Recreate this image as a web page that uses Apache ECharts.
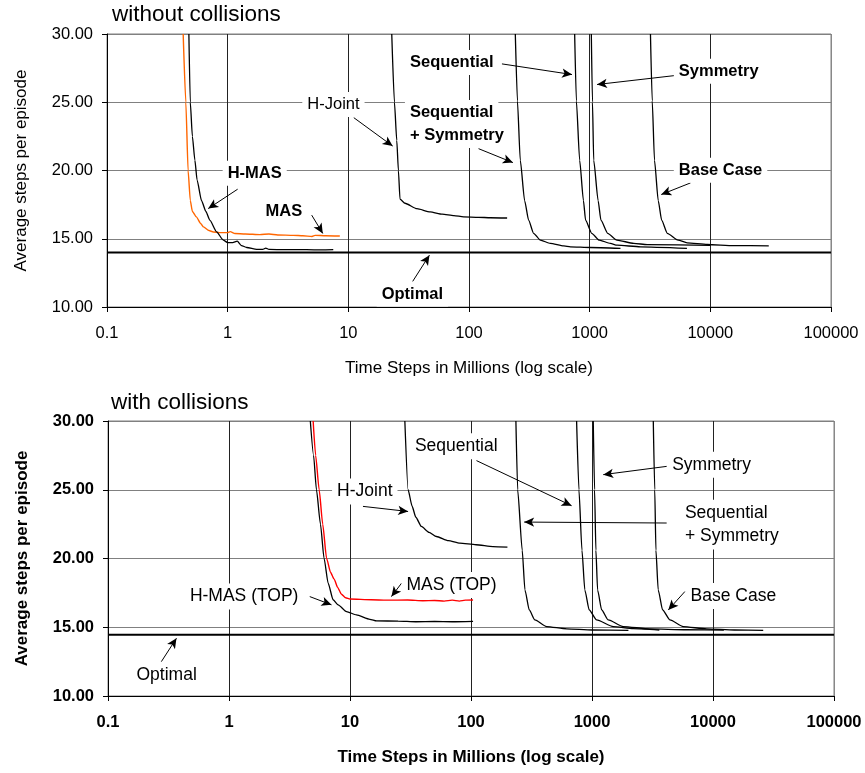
<!DOCTYPE html>
<html><head><meta charset="utf-8">
<script src="https://cdn.jsdelivr.net/npm/echarts@6/dist/echarts.min.js"></script>
<style>html,body{margin:0;padding:0;background:#fff}#c{width:865px;height:773px}</style>
</head><body><div id="c"></div>
<script>
const FONT = '"Liberation Sans", Arial, Helvetica, sans-serif';

// ---------- Top panel: without collisions  [time steps (millions), avg steps per episode]
const topMAS = [[0.428,30],[0.45,25],[0.47,20],[0.49,17.8],[0.51,17.0],[0.55,16.6],[0.6,16.1],[0.63,15.87],[0.7,15.6],[0.76,15.5],[0.85,15.45],[1.0,15.45],[1.05,15.52],[1.15,15.38],[1.4,15.35],[1.85,15.3],[2.2,15.35],[2.6,15.28],[3.5,15.25],[4.2,15.22],[5.0,15.17],[5.3,15.25],[6.5,15.22],[8.5,15.2]];
const topHMAS = [[0.477,30],[0.49,25],[0.51,22.5],[0.535,20.75],[0.558,19.3],[0.607,17.8],[0.66,17.0],[0.711,16.36],[0.81,15.5],[0.92,14.9],[1.0,14.72],[1.1,14.72],[1.2,14.82],[1.3,14.5],[1.44,14.36],[1.74,14.22],[1.95,14.22],[2.07,14.32],[2.2,14.22],[3.0,14.2],[4.5,14.2],[6.0,14.18],[7.5,14.2]];
const topHJoint = [[22.9,30],[24.1,25],[25.2,22.2],[26,20],[26.8,17.9],[29.5,17.6],[37,17.2],[47.6,16.97],[60,16.8],[75,16.7],[90,16.6],[120,16.57],[150,16.54],[207,16.52]];
const topSeqSym = [[242,30],[252,25.1],[266,20.75],[289,17.8],[312,16.36],[343,15.4],[390,14.9],[472,14.66],[610,14.48],[692,14.41],[1014,14.36],[1800,14.3]];
const topSequential = [[751,30],[776,25.1],[826,20.75],[888,17.8],[925,16.36],[1040,15.4],[1200,14.9],[1485,14.66],[1686,14.53],[2634,14.41],[6400,14.3]];
const topSymmetry = [[1032,30],[1055,25],[1080,20.75],[1175,17.8],[1240,16.36],[1410,15.4],[1680,14.9],[2318,14.66],[3000,14.57],[10000,14.52]];
const topBase = [[3190,30],[3300,25.1],[3445,20.75],[3700,17.8],[3950,16.36],[4400,15.4],[5400,14.9],[6430,14.7],[9440,14.58],[15660,14.5],[30500,14.48]];
const topOptimal = [[0.1,14.0],[100000,14.0]];

// ---------- Bottom panel: with collisions
const botHMAS = [[4.7,30],[5.0,27.5],[5.28,25],[5.7,22.5],[6.1,20.03],[6.6,18.2],[7.25,17.0],[7.98,16.63],[9.36,16.14],[11.3,15.9],[14.6,15.58],[16.6,15.46],[25,15.45],[35,15.4],[50,15.42],[70,15.4],[104,15.43]];
const botMAS = [[4.96,30],[5.2,27.5],[5.56,25],[5.95,22.5],[6.4,20.03],[6.9,19.0],[7.4,18.5],[7.9,17.9],[8.5,17.4],[9.2,17.15],[10,17.05],[15,17.0],[20,16.97],[30,16.98],[40,16.93],[50,16.95],[60,16.9],[70,16.97],[80,16.9],[90,16.97],[104,16.98]];
const botHJoint = [[28.4,30],[30.2,25],[32.6,23.8],[35,23],[38.9,22.33],[45,21.9],[51.8,21.6],[65,21.3],[80.9,21.12],[110,21.0],[152,20.87],[200,20.83]];
const botSeqSym = [[235,30],[243,25],[265,20.6],[279,17.72],[303,16.26],[337,15.53],[422,15.05],[617,14.88],[1000,14.8],[2000,14.78]];
const botSequential = [[746,30],[780,25],[826,20.6],[872,17.72],[948,16.26],[1091,15.53],[1497,15.05],[2190,14.9],[3600,14.8]];
const botSymmetry = [[1024,30],[1050,25],[1077,20.6],[1112,17.72],[1202,16.26],[1362,15.53],[1811,15.05],[3013,14.88],[6000,14.82],[12300,14.8]];
const botBase = [[3210,30],[3300,25],[3375,20.6],[3524,17.72],[3833,16.26],[4407,15.53],[5680,15.05],[8850,14.88],[15000,14.8],[26000,14.78]];
const botOptimal = [[0.1,14.45],[100000,14.45]];

// ---------- Axis ranges / ticks
const xMin = 0.1, xMax = 100000;
const yMin = 10, yMax = 30, yStep = 5;
const titles = ['without collisions', 'with collisions'];
const xName = 'Time Steps in Millions (log scale)';
const yName = 'Average steps per episode';

// ---------- Annotations (data coordinates): [text, x, y, bold]
const topLabels = [
  ['Sequential', 32.5, 27.91, true],
  ['Symmetry', 5480, 27.27, true],
  ['H-Joint', 4.57, 24.84, false],
  ['Sequential', 32.4, 24.25, true],
  ['+ Symmetry', 32.4, 22.57, true],
  ['Base Case', 5480, 20.01, true],
  ['H-MAS', 1.0, 19.8, true],
  ['MAS', 2.06, 16.97, true],
  ['Optimal', 18.9, 10.95, true]
];
const topArrows = [
  [[187.5,27.81],[714,27.03]],
  [[5140,26.96],[1151,26.30]],
  [[11.1,23.87],[23.3,21.79]],
  [[120,21.6],[231,20.58]],
  [[6850,19.09],[3920,18.24]],
  [[1.21,18.63],[0.69,17.21]],
  [[4.97,16.73],[6.14,15.39]],
  [[34,11.85],[47,13.80]]
];
const botLabels = [
  ['Sequential', 34.4, 28.16, false],
  ['Symmetry', 4600, 26.82, false],
  ['Sequential', 5860, 23.33, false],
  ['+ Symmetry', 5860, 21.6, false],
  ['H-Joint', 7.82, 24.88, false],
  ['MAS (TOP)', 29.3, 18.08, false],
  ['H-MAS (TOP)', 0.475, 17.23, false],
  ['Base Case', 6530, 17.28, false],
  ['Optimal', 0.172, 11.53, false]
];
const botArrows = [
  [[111,27.12],[678,23.84]],
  [[4140,26.70],[1239,26.10]],
  [[4140,22.58],[275,22.65]],
  [[12.8,23.79],[30.2,23.42]],
  [[26.7,18.21],[22.0,17.23]],
  [[4.65,17.23],[7.03,16.63]],
  [[5860,17.6],[4270,16.26]],
  [[0.276,12.5],[0.368,14.2]]
];

function line(data, gi, color, width, arrows) {
  const s = {
    type: 'line', data, xAxisIndex: gi, yAxisIndex: gi,
    symbol: 'none', showSymbol: false, silent: true, animation: false, clip: true,
    smooth: arrows ? false : 0.2, smoothMonotone: 'x',
    lineStyle: { color, width }, itemStyle: { color }, z: 3
  };
  if (arrows) {
    s.markLine = {
      silent: true, animation: false, symbol: ['none', 'arrow'], symbolSize: [7, 10],
      label: { show: false }, emphasis: { disabled: true },
      lineStyle: { color: '#000', width: 1, type: 'solid' },
      data: arrows.map(a => [{ coord: a[0] }, { coord: a[1] }])
    };
  }
  return s;
}

function xAxis(gi, bold) {
  return {
    type: 'log', logBase: 10, min: xMin, max: xMax, gridIndex: gi,
    name: xName, nameLocation: 'middle', nameGap: 53,
    nameTextStyle: { fontFamily: FONT, fontSize: 17, color: '#000', fontWeight: bold ? 'bold' : 'normal' },
    axisLine: { onZero: false, lineStyle: { color: '#000', width: 1 } },
    axisTick: { show: true, inside: false, length: 5, lineStyle: { color: '#000' } },
    axisLabel: { margin: 18, fontFamily: FONT, fontSize: 16.5, color: '#000', fontWeight: bold ? 'bold' : 'normal',
      formatter: v => String(v) },
    splitLine: { show: true, lineStyle: { color: ['#222','#222','#222','#222','#222','#222','#888'], width: 1 } },
    minorTick: { show: false }
  };
}
function yAxis(gi, bold) {
  return {
    type: 'value', min: yMin, max: yMax, interval: yStep, gridIndex: gi,
    name: yName, nameLocation: 'middle', nameGap: 77, nameRotate: 90,
    nameTextStyle: { fontFamily: FONT, fontSize: 17, color: '#000', fontWeight: bold ? 'bold' : 'normal' },
    axisLine: { show: true, lineStyle: { color: '#000', width: 1 } },
    axisTick: { show: true, inside: false, length: 5, lineStyle: { color: '#000' } },
    axisLabel: { margin: 14, fontFamily: FONT, fontSize: 16.5, color: '#000', fontWeight: bold ? 'bold' : 'normal',
      formatter: v => v.toFixed(2) },
    splitLine: { show: true, lineStyle: { color: '#808080', width: 1 } }
  };
}

const chart = echarts.init(document.getElementById('c'), null, { renderer: 'canvas' });
const option = {
  backgroundColor: '#fff',
  animation: false,
  grid: [
    { left: 107, top: 34, width: 724, height: 273, show: true, borderColor: '#808080', borderWidth: 1, containLabel: false },
    { left: 108, top: 421, width: 726, height: 275, show: true, borderColor: '#808080', borderWidth: 1, containLabel: false }
  ],
  xAxis: [xAxis(0, false), xAxis(1, true)],
  yAxis: [yAxis(0, false), yAxis(1, true)],
  series: [
    line(topOptimal, 0, '#000', 2, topArrows),
    line(topMAS, 0, '#FF6600', 1.4),
    line(topHMAS, 0, '#000', 1.3),
    line(topHJoint, 0, '#000', 1.3),
    line(topSeqSym, 0, '#000', 1.3),
    line(topSequential, 0, '#000', 1.3),
    line(topSymmetry, 0, '#000', 1.3),
    line(topBase, 0, '#000', 1.3),
    line(botOptimal, 1, '#000', 2, botArrows),
    line(botMAS, 1, '#FF0000', 1.4),
    line(botHMAS, 1, '#000', 1.3),
    line(botHJoint, 1, '#000', 1.3),
    line(botSeqSym, 1, '#000', 1.3),
    line(botSequential, 1, '#000', 1.3),
    line(botSymmetry, 1, '#000', 1.3),
    line(botBase, 1, '#000', 1.3)
  ]
};
chart.setOption(option);

const graphics = [];
function addLabels(list, gi, fontSize) {
  list.forEach(l => {
    const p = chart.convertToPixel({ gridIndex: gi }, [l[1], l[2]]);
    graphics.push({
      type: 'text', x: p[0] - 5, y: p[1], z: 100, silent: true,
      style: {
        text: l[0], fill: '#000', fontFamily: FONT, fontSize,
        fontWeight: l[3] ? 'bold' : 'normal',
        align: 'left', verticalAlign: 'middle',
        backgroundColor: '#fff', padding: [4, 5]
      }
    });
  });
}
addLabels(topLabels, 0, 16.5);
addLabels(botLabels, 1, 17.5);
graphics.push({ type: 'text', x: 112, y: 15, z: 100, silent: true,
  style: { text: titles[0], fill: '#000', fontFamily: FONT, fontSize: 22.5, align: 'left', verticalAlign: 'middle' } });
graphics.push({ type: 'text', x: 111, y: 402.5, z: 100, silent: true,
  style: { text: titles[1], fill: '#000', fontFamily: FONT, fontSize: 22.5, align: 'left', verticalAlign: 'middle' } });
chart.setOption({ graphic: graphics });
</script>
</body></html>
